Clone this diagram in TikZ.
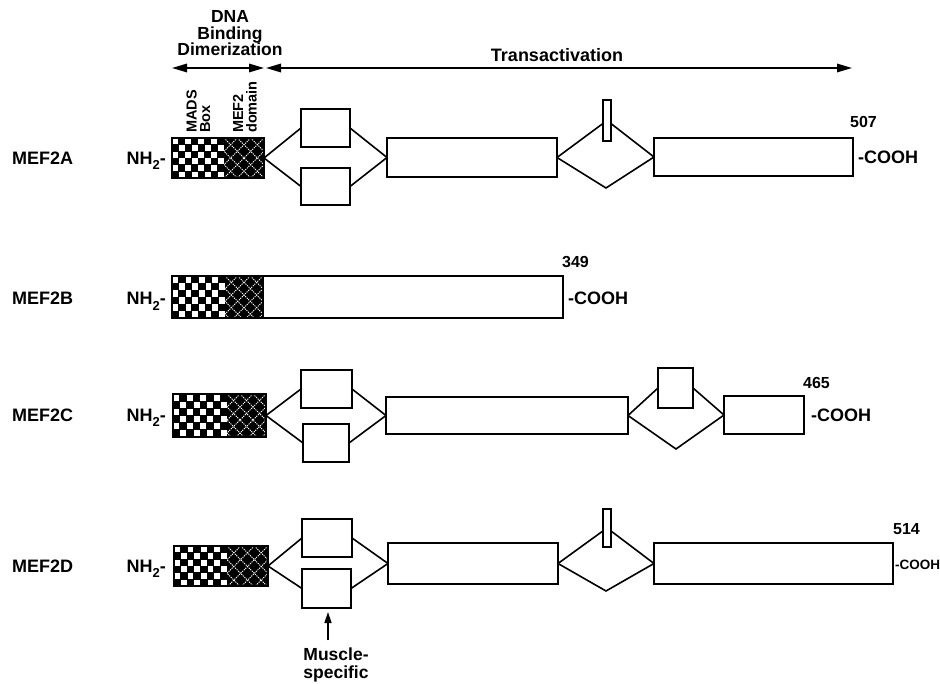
\documentclass[tikz,border=0pt]{standalone}
\usepackage{fontspec}
\setmainfont{Liberation Sans}
\usetikzlibrary{arrows.meta}
\newcommand\fbig{\fontsize{18}{20}\selectfont\bfseries}
\newcommand\nht{NH\raisebox{-0.3em}{\fontsize{13}{13}\selectfont 2}-}
\newcommand\bx[5]{\node[box,minimum width={(#4-#2)*1pt},minimum height={(#5-#3)*1pt}] (#1) at ({(#2+#4)/2},{(#3+#5)/2}) {};}
\newcommand\dom[6]{%
  \fill[black] (#2,#5) rectangle (#4,#6);
  \pgfmathsetmacro\cw{(#3-#2)/8}
  \pgfmathsetmacro\ch{(#6-#5)/6}
  \foreach \i in {0,...,7}{\foreach \j in {0,...,5}{%
    \pgfmathtruncatemacro\pp{mod(\i+\j,2)}%
    \ifnum\pp=0 \fill[white] ({#2+\i*\cw+0.45},{#5+\j*\ch+0.45}) rectangle ({#2+(\i+1)*\cw-0.45},{#5+(\j+1)*\ch-0.45});\fi}}
  \begin{scope}
    \clip (#3,#5) rectangle (#4,#6);
    \pgfmathsetmacro\hh{#6-#5}
    \pgfmathsetmacro\ss{(#4-#3)/3}
    \foreach \k in {-4,...,6}{
      \draw[white,line width=0.9pt,dash pattern=on 1.2pt off 1pt] ({#3+\k*\ss},#5) -- ++(\hh,\hh);
      \draw[white,line width=0.9pt,dash pattern=on 1.2pt off 1pt] ({#3+\k*\ss},#5) -- ++(-\hh,\hh);}
  \end{scope}
  \bx{#1}{#2}{#5}{#4}{#6}}
\tikzset{
  box/.style={draw=black,line width=1.6pt,inner sep=0pt,outer sep=0pt},
  conn/.style={line width=1.6pt,line join=miter},
  lbl/.style={font=\fbig,inner sep=0pt},
  num/.style={font=\fontsize{16}{18}\selectfont\bfseries,inner sep=0pt},
  cooh/.style={font=\fbig,inner sep=0pt,anchor=west},
  rot/.style={font=\fontsize{14.5}{13.5}\selectfont\bfseries,rotate=90,anchor=west,align=left,inner sep=0pt},
  dblarrow/.style={line width=1.6pt,{Triangle[length=15pt,width=8.5pt]}-{Triangle[length=15pt,width=8.5pt]}}
}
\begin{document}
\begin{tikzpicture}[x=1pt,y=-1pt]
\useasboundingbox (0,0) rectangle (940,684);

% header
\node[font=\fontsize{17.5}{16.5}\selectfont\bfseries,align=center,inner sep=0pt] (dna) at (230,33.5) {DNA\\Binding\\Dimerization};
\node[lbl] (trans) at (557,55) {Transactivation};
\coordinate (dl) at (172,68);
\coordinate (dr) at (264,68);
\coordinate (tl) at (266,68);
\coordinate (tr) at (852,68);
\draw[dblarrow] (dl) -- (dr);
\draw[dblarrow] (tl) -- (tr);
\node[rot] (mads) at (198.5,133) {MADS\\Box};
\node[rot] (mefd) at (245,133) {MEF2\\domain};

% ---------- MEF2A
\node[lbl,anchor=base west] (nA) at (12,164.5) {MEF2A};
\node[lbl,anchor=base east] (hA) at (166,164.5) {\nht};
\dom{dA}{172}{224}{264}{138}{178}
\bx{a1t}{301}{109}{350}{147}
\bx{a1b}{301}{168}{350}{205}
\bx{a2}{387}{138}{557}{177}
\coordinate (abot) at (606,188);
\bx{a3}{654}{138}{853}{176}
\draw[conn] (dA.east) -- (a1t.west);
\draw[conn] (dA.east) -- (a1b.west);
\draw[conn] (a1t.east) -- (a2.west);
\draw[conn] (a1b.east) -- (a2.west);
\draw[conn] (a2.east) -- (607,120.5) -- (a3.west);
\draw[conn] (a2.east) -- (abot) -- (a3.west);
\node[box,fill=white,minimum width=8pt,minimum height=41pt] (abar) at (607,120.5) {};
\node[num] (lA) at (863.5,122) {507};
\node[cooh] (cA) at (858,157) {-COOH};

% ---------- MEF2B
\node[lbl,anchor=base west] (nB) at (12,305) {MEF2B};
\node[lbl,anchor=base east] (hB) at (166,305) {\nht};
\bx{b1}{263}{276}{563}{318}
\dom{dB}{172}{225}{263}{276}{318}
\node[num] (lB) at (575.5,262) {349};
\node[cooh] (cB) at (568,298) {-COOH};

% ---------- MEF2C
\node[lbl,anchor=base west] (nC) at (12,421.5) {MEF2C};
\node[lbl,anchor=base east] (hC) at (166,421.5) {\nht};
\dom{dC}{173}{227}{266}{394}{437}
\bx{c1t}{301}{370}{352}{408}
\bx{c1b}{303}{424}{349}{462}
\bx{c2}{386}{397}{628}{434}
\bx{c3t}{658}{368}{693}{408}
\coordinate (cbot) at (676,449);
\bx{c4}{724}{396}{804}{434}
\draw[conn] (dC.east) -- (c1t.west);
\draw[conn] (dC.east) -- (c1b.west);
\draw[conn] (c1t.east) -- (c2.west);
\draw[conn] (c1b.east) -- (c2.west);
\draw[conn] (c2.east) -- (c3t.west);
\draw[conn] (c3t.east) -- (c4.west);
\draw[conn] (c2.east) -- (cbot) -- (c4.west);
\node[num] (lC) at (816.5,383) {465};
\node[cooh] (cC) at (811,415) {-COOH};

% ---------- MEF2D
\node[lbl,anchor=base west] (nD) at (12,572.5) {MEF2D};
\node[lbl,anchor=base east] (hD) at (166,572.5) {\nht};
\dom{dD}{174}{227}{268}{546}{586}
\bx{d1t}{302}{519}{352}{557}
\bx{d1b}{302}{569}{351}{608}
\bx{d2}{388}{543}{558}{584}
\coordinate (dbot) at (606,591);
\bx{d3}{654}{543}{893}{584}
\draw[conn] (dD.east) -- (d1t.west);
\draw[conn] (dD.east) -- (d1b.west);
\draw[conn] (d1t.east) -- (d2.west);
\draw[conn] (d1b.east) -- (d2.west);
\draw[conn] (d2.east) -- (607,528) -- (d3.west);
\draw[conn] (d2.east) -- (dbot) -- (d3.west);
\node[box,fill=white,minimum width=8pt,minimum height=38pt] (dbar) at (607,528) {};
\node[num] (lD) at (906.5,529) {514};
\node[font=\fontsize{13.5}{15}\selectfont\bfseries,inner sep=0pt,anchor=west] (cD) at (895,565) {-COOH};

% Muscle-specific
\node[font=\fontsize{17.5}{18}\selectfont\bfseries,align=center,inner sep=0pt,anchor=north] (mus) at (336,648) {Muscle-\\specific};
\coordinate (mtail) at (328,640);
\coordinate (mtip) at (328,612);
\draw[line width=1.6pt,-{Triangle[length=11pt,width=7pt]}] (mtail) -- (mtip);
\end{tikzpicture}
\end{document}
